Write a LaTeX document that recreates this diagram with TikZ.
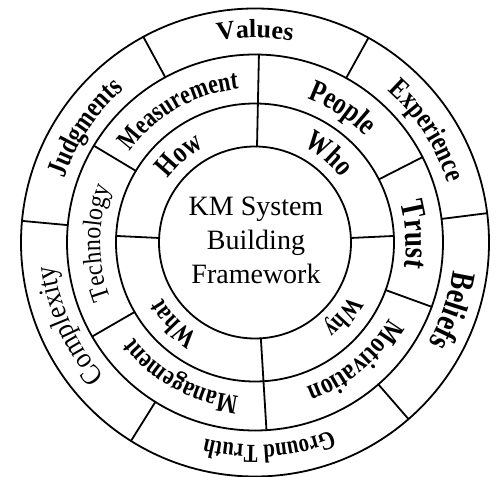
\documentclass[tikz,border=0pt]{standalone}
\usepackage{fontspec}
\setmainfont{Liberation Serif}
\newfontfamily\wa[FakeStretch=0.8]{Liberation Serif}
\newfontfamily\wb[FakeStretch=0.9]{Liberation Serif}
\usetikzlibrary{decorations.text}
\newcommand{\ringlabel}[4]{%
  \path[shift={(C)}, decorate, decoration={text along path, text={|#3|#4}, text align=center}]
    ({#1+45}:#2) arc[start angle={#1+45}, end angle={#1-45}, radius=#2];
}
\newcommand{\divider}[3]{%
  \draw[ringline, shift={(C)}] (#1:#2) -- (#1:#3);
}
\begin{document}
\begin{tikzpicture}[x=1pt,y=1pt,
  ringline/.style={line width=1.8pt, line cap=round}]
\useasboundingbox (0,0) rectangle (496,477);
\coordinate (C) at (255,234.5);
% circles
\draw[ringline] (C) circle[radius=96];
\draw[ringline] (C) circle[radius=139];
\draw[ringline] (C) circle[radius=188];
\draw[ringline] (C) circle[radius=234];
% inner ring dividers
\divider{2.7}{96}{139}
\divider{177.3}{96}{139}
% inner + middle
\divider{88.8}{96}{188}
\divider{-86.5}{96}{188}
% middle ring dividers
\divider{27}{139}{188}
\divider{-20}{139}{188}
\divider{-150}{139}{188}
\divider{149}{139}{188}
% outer ring dividers
\divider{118.5}{188}{234}
\divider{61}{188}{234}
\divider{7.2}{188}{234}
\divider{-49}{188}{234}
\divider{-122}{188}{234}
\divider{174.7}{188}{234}
% outer labels (ring mid 211)
\ringlabel{90}{205}{\bfseries\fontsize{26}{30}\selectfont}{Values}
\ringlabel{33}{201.4}{\wa\bfseries\fontsize{29}{34}\selectfont}{Experience}
\ringlabel{-19}{200}{\wa\bfseries\fontsize{34}{40}\selectfont}{Beliefs}
\ringlabel{-86}{202.4}{\wa\bfseries\fontsize{26}{31}\selectfont}{Ground Truth}
\ringlabel{204}{201.4}{\wb\fontsize{29}{34}\selectfont}{Complexity}
\ringlabel{146}{201.4}{\wa\bfseries\fontsize{29}{34}\selectfont}{Judgments}
% middle labels (ring mid 163.5)
\ringlabel{120}{154.4}{\wa\bfseries\fontsize{27.5}{32}\selectfont}{Measurement}
\ringlabel{57}{153.3}{\wa\bfseries\fontsize{31}{36}\selectfont}{People}
\ringlabel{3}{151}{\wa\bfseries\fontsize{34}{40}\selectfont}{Trust}
\ringlabel{-50}{154}{\wa\bfseries\fontsize{29}{34}\selectfont}{Motivation}
\ringlabel{-119}{154.4}{\wa\bfseries\fontsize{27.5}{32}\selectfont}{Management}
\ringlabel{180}{154.8}{\wb\fontsize{26.5}{31}\selectfont}{Technology}
% inner labels (ring mid 117.5)
\ringlabel{131}{107.6}{\wa\bfseries\fontsize{30}{35}\selectfont}{How}
\ringlabel{50}{107.6}{\wa\bfseries\fontsize{30}{35}\selectfont}{Who}
\ringlabel{-40}{109}{\wa\bfseries\fontsize{26}{31}\selectfont}{Why}
\ringlabel{225}{108.4}{\wa\bfseries\fontsize{27.5}{32}\selectfont}{What}
% centre text
\node[align=center, font=\fontsize{28}{34}\selectfont, inner sep=0pt] (title) at (256,237) {KM System\\Building\\Framework};
\end{tikzpicture}
\end{document}
